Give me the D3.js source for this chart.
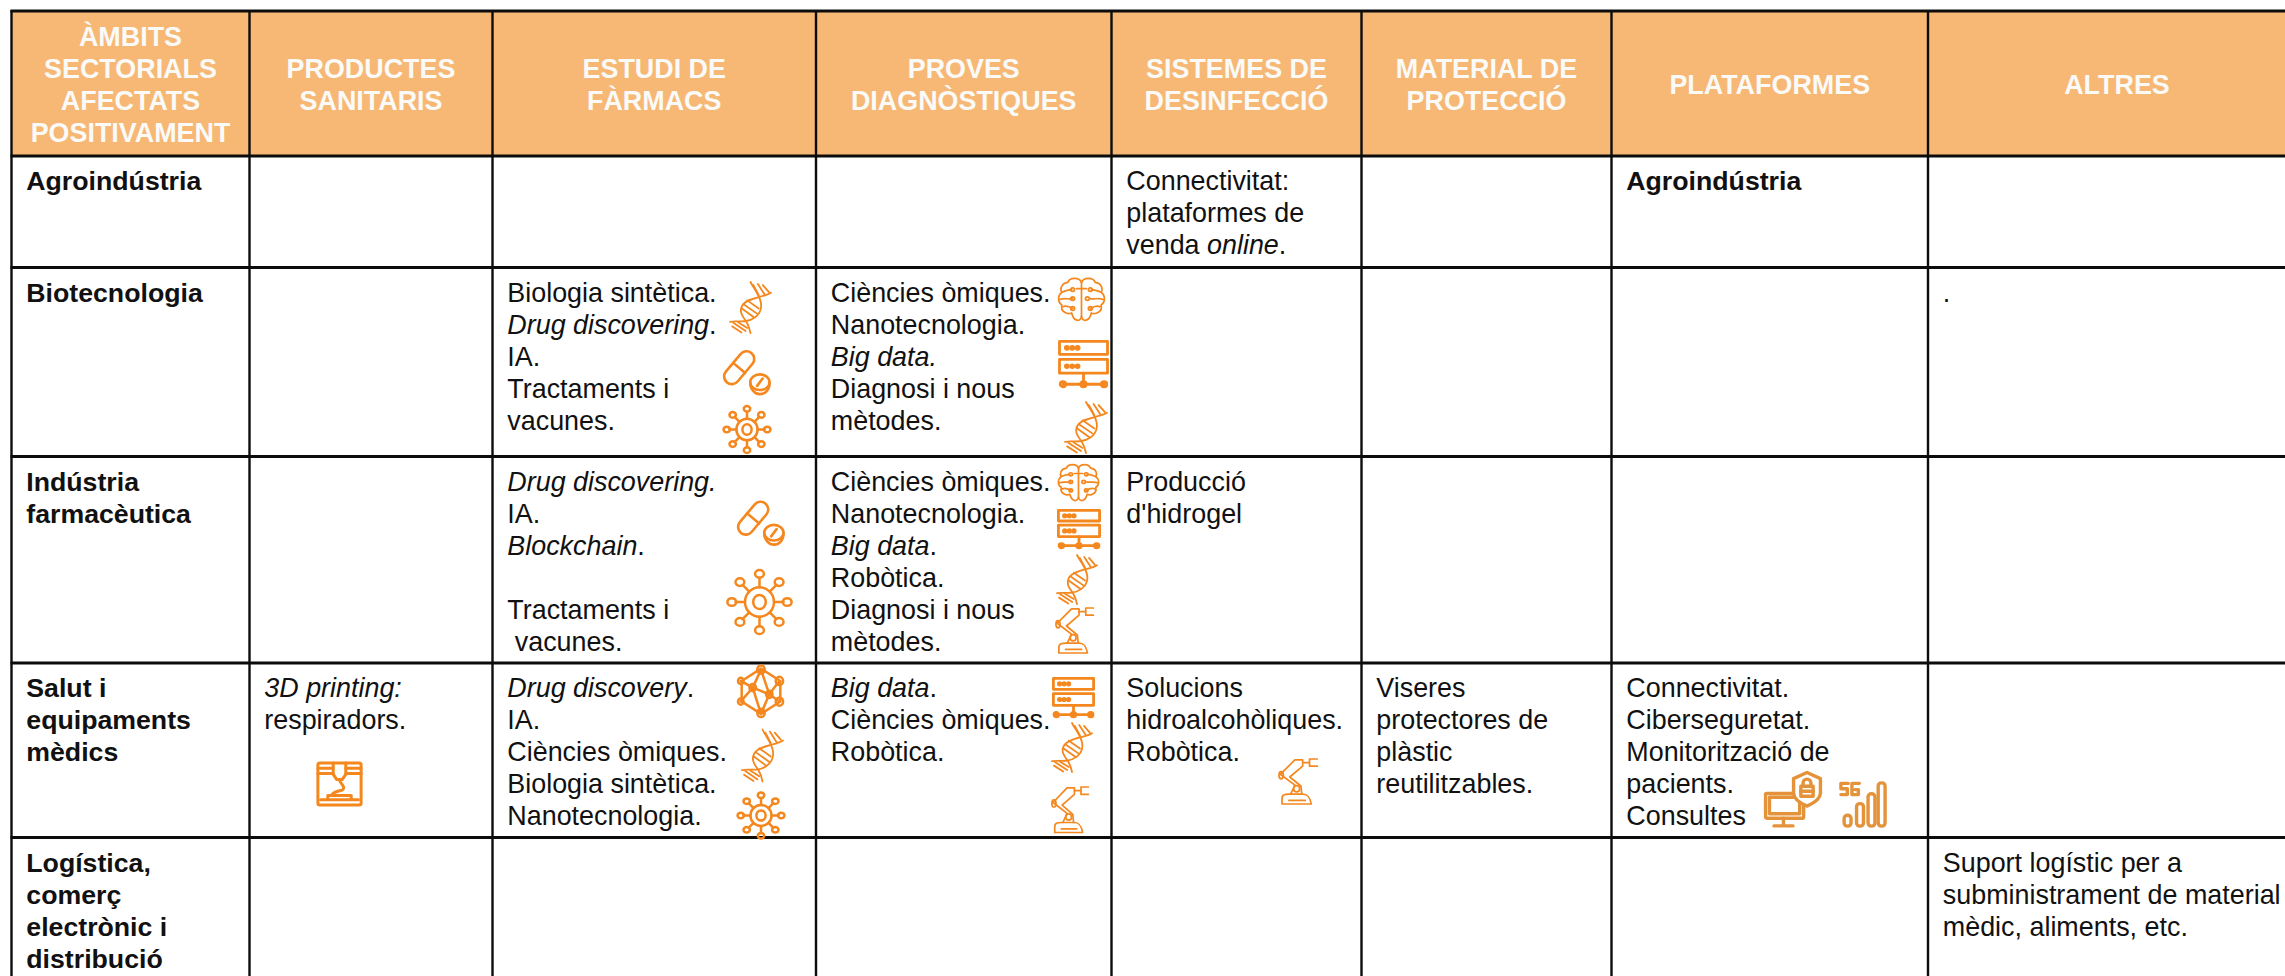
<!DOCTYPE html>
<html><head><meta charset="utf-8">
<script src="https://cdn.jsdelivr.net/npm/d3@7"></script>
<style>
html,body{margin:0;padding:0;background:#fff;overflow:hidden}
text{font-family:"Liberation Sans",Arial,sans-serif;white-space:pre}
</style></head><body>
<div id="chart"></div>
<script>
// ---------- table content ----------
const headers = [
  ["ÀMBITS","SECTORIALS","AFECTATS","POSITIVAMENT"],
  ["PRODUCTES","SANITARIS"],
  ["ESTUDI DE","FÀRMACS"],
  ["PROVES","DIAGNÒSTIQUES"],
  ["SISTEMES DE","DESINFECCIÓ"],
  ["MATERIAL DE","PROTECCIÓ"],
  ["PLATAFORMES"],
  ["ALTRES"]
];
const sectors = [
  ["Agroindústria"],
  ["Biotecnologia"],
  ["Indústria","farmacèutica"],
  ["Salut i","equipaments","mèdics"],
  ["Logística,","comerç","electrònic i","distribució"]
];
const productesSanitaris = [[],[],[],["*3D printing:*","respiradors."],[]];
const estudiFarmacs = [
  [],
  ["Biologia sintètica.","*Drug discovering*.","IA.","Tractaments i","vacunes."],
  ["*Drug discovering.*","IA.","*Blockchain*.","","Tractaments i"," vacunes."],
  ["*Drug discovery*.","IA.","Ciències òmiques.","Biologia sintètica.","Nanotecnologia."],
  []
];
const provesDiagnostiques = [
  [],
  ["Ciències òmiques.","Nanotecnologia.","*Big data.*","Diagnosi i nous","mètodes."],
  ["Ciències òmiques.","Nanotecnologia.","*Big data*.","Robòtica.","Diagnosi i nous","mètodes."],
  ["*Big data*.","Ciències òmiques.","Robòtica."],
  []
];
const sistemesDesinfeccio = [
  ["Connectivitat:","plataformes de","venda *online*."],
  [],
  ["Producció","d'hidrogel"],
  ["Solucions","hidroalcohòliques.","Robòtica."],
  []
];
const materialProteccio = [[],[],[],["Viseres","protectores de","plàstic","reutilitzables."],[]];
const plataformes = [
  ["#Agroindústria"],
  [],
  [],
  ["Connectivitat.","Ciberseguretat.","Monitorització de","pacients.","Consultes"],
  []
];
const altres = [
  [],
  ["."],
  [],
  [],
  ["Suport logístic per a","subministrament de material","mèdic, aliments, etc."]
];
const columns = [sectors.map(l=>l.map(s=>"#"+s)),productesSanitaris,estudiFarmacs,provesDiagnostiques,
  sistemesDesinfeccio,materialProteccio,plataformes,altres];

// icons: [kind, column, row, slot]
const iconList = [
  ["dna",2,1,0],["pills",2,1,1],["virus",2,1,2],
  ["brain",3,1,0],["server",3,1,1],["dna",3,1,2],
  ["pills",2,2,0],["virus",2,2,1],
  ["brain",3,2,0],["server",3,2,1],["dna",3,2,2],["robot",3,2,3],
  ["printer",1,3,0],
  ["net",2,3,0],["dna",2,3,1],["virus",2,3,2],
  ["server",3,3,0],["dna",3,3,1],["robot",3,3,2],
  ["robot",4,3,0],
  ["monitor",6,3,0],["signal",6,3,1]
];

// ---------- layout ----------
const W = 2285, H = 976;
const colEdges = [11.5,249.5,492.5,816,1111.5,1361.5,1611.5,1928,2290];
const rowEdges = [11,156,267.5,456.5,663,837.5,990];
const x = d3.scaleLinear().domain(d3.range(colEdges.length)).range(colEdges);
const y = d3.scaleLinear().domain(d3.range(rowEdges.length)).range(rowEdges);
const lineH = 32, fsRegular = 26.9, fsBold = 26.7, fsHeader = 26.9, pad = 14.8;
const iconBoxes = { // pixel boxes of the pictograms: "col,row,slot" -> x0,y0,x1,y1
  "2,1,0":[730,282,771,333],"2,1,1":[724,350,770,396],"2,1,2":[724,406,770,453],
  "3,1,0":[1057,277,1106,322],"3,1,1":[1059,341,1108,387],"3,1,2":[1065,402,1107,453],
  "2,2,0":[738,500.5,784,546.5],"2,2,1":[728,570,791,634],
  "3,2,0":[1057,463.5,1100,502],"3,2,1":[1058,510,1100,548],"3,2,2":[1057,555,1097,604],"3,2,3":[1053,608,1095,653],
  "1,3,0":[317,762,362,806],
  "2,3,0":[738,665.5,784,717],"2,3,1":[742,729.5,783,781.5],"2,3,2":[738,792.5,784,838.5],
  "3,3,0":[1053,678,1094,717],"3,3,1":[1052,723,1092,772],"3,3,2":[1049,787,1090,832.5],
  "4,3,0":[1276,759,1319,804],
  "6,3,0":[1765,772,1821,827],"6,3,1":[1840,782,1886,827]
};

const svg = d3.select("#chart").append("svg").attr("width",W).attr("height",H).style("display","block");
svg.append("rect").attr("width",W).attr("height",H).attr("fill","#fff");
svg.append("rect").attr("x",x(0)).attr("y",y(0)).attr("width",W-x(0)).attr("height",y(1)-y(0)).attr("fill","#F6B874");

// grid
const grid = svg.append("g").attr("stroke","#0c0c0c");
grid.selectAll("line.v").data(d3.range(colEdges.length-1)).join("line").attr("class","v")
  .attr("x1",x).attr("x2",x).attr("y1",y(0)-1).attr("y2",H).attr("stroke-width",2.4);
grid.selectAll("line.h").data(d3.range(rowEdges.length-1)).join("line").attr("class","h")
  .attr("x1",x(0)-1).attr("x2",W).attr("y1",y).attr("y2",y).attr("stroke-width",2.8);

// header text
const hdr = svg.append("g").attr("fill","#FAFAF8").attr("font-weight","bold").attr("text-anchor","middle").attr("font-size",fsHeader);
headers.forEach((lines,c)=>{
  const cx = c===7 ? 2117 : (x(c)+x(c+1))/2, cy = (y(0)+y(1))/2+0.5;
  lines.forEach((t,i)=>{
    hdr.append("text").attr("x",cx).attr("y",cy+lineH*(i-(lines.length-1)/2)+9.5).text(t);
  });
});

// body text
const body = svg.append("g").attr("fill","#111");
columns.forEach((col,c)=>{
  col.forEach((lines,r)=>{
    lines.forEach((raw,i)=>{
      if(!raw) return;
      const bold = raw[0]==="#";
      const t = body.append("text").attr("x",x(c)+pad).attr("y",y(r+1)+34.3+lineH*i)
        .attr("font-size",bold?fsBold:fsRegular)
        .attr("font-weight",bold?"bold":"normal");
      (bold?raw.slice(1):raw).split("*").forEach((part,k)=>{
        if(part) t.append("tspan").attr("font-style",k%2?"italic":"normal").text(part);
      });
    });
  });
});

// ---------- pictograms, drawn in a 100×100 box ----------
const P = (d)=>({t:"p",d});
const W_ = (d)=>({t:"w",d});
const C = (cx,cy,rx,ry)=>({t:"c",cx,cy,rx,ry:ry===undefined?rx:ry});
const R = (x,y,w,h,r=0)=>({t:"r",x,y,w,h,r});
const F = (cx,cy,rx,ry)=>({t:"f",cx,cy,rx,ry:ry===undefined?rx:ry});
function virusParts(){
  const a=[C(50,50,23),C(50,50,10,11)];
  d3.range(8).forEach(k=>{
    const th=k*Math.PI/4, c=Math.cos(th), s=Math.sin(th);
    a.push(P(`M${50+23*c} ${50+23*s}L${50+38*c} ${50+38*s}`));
    a.push(C(50+44*c,50+44*s,7,6));
  });
  return a;
}
const icons = {
  dna:{w:1.8,parts:[
    P("M50 0C58 14 78 30 76 48C74 68 50 76 36 77C24 78 10 76 0 78"),
    P("M100 21C84 30 42 30 30 46C20 60 34 70 40 78C46 86 48 92 50 100"),
    P("M57 6L70 26M68 4L84 24M80 6L95 20"),
    P("M42 36L70 52M34 44L66 62M29 52L58 69"),
    P("M8 80L38 96M20 79L42 90M5 87L28 99")]},
  pills:{w:2.6,parts:[
    P("M4 47L36 9A16 16 0 0 1 62 30L30 68A16 16 0 0 1 4 47Z"),
    P("M20 28L46 50"),
    C(78,70,21,17),P("M57 72C57 86 68 96 78 96C90 96 99 86 99 72"),P("M72 78L84 62")]},
  virus:{w:2.5,parts:virusParts()},
  brain:{w:1.7,parts:[
    P("M50 12C46 0 26 0 22 12C8 14 6 28 10 34C0 42 2 58 10 62C6 78 22 84 30 80C34 100 48 100 50 88"),
    P("M50 12C54 0 74 0 78 12C92 14 94 28 90 34C100 42 98 58 90 62C94 78 78 84 70 80C66 100 52 100 50 88"),
    P("M50 12V88M40 26H60"),
    P("M10 34C18 30 26 28 30 28M90 34C82 30 74 28 70 28M6 50C14 46 24 50 32 48M94 50C86 46 76 50 68 48M12 66C20 62 26 66 32 70M88 66C80 62 74 66 68 70"),
    C(32,28,4),C(68,28,4),C(32,48,4),C(62,48,4),C(32,70,4),C(68,70,4)]},
  server:{w:2.8,parts:[
    R(1,1,98,28),R(1,40,98,30),P("M50 70V94M8 94H92"),
    C(8,94,5.5),C(50,94,5.5),C(92,94,5.5),
    F(16,15,3),F(27,15,3),F(38,15,3),F(16,55,3),F(27,55,3),F(38,55,3)]},
  robot:{w:1.7,parts:[
    P("M14 100V88C14 78 22 78 30 78H62C70 78 78 80 82 100Z"),P("M30 92H68"),
    P("M34 78L44 58L10 34L44 2H62V16L32 40L58 60L60 78"),
    C(48,66,7),C(12,36,5,8),P("M62 8H78M78 0H96M78 16H96M78 0V16")]},
  printer:{w:3,parts:[
    R(2,2,96,96,4),P("M2 14H36M64 14H98M2 26H36M64 26H98"),
    P("M36 2V28L44 40H56L64 28V2"),
    P("M50 40C50 50 64 54 58 62C54 68 42 62 32 76"),
    P("M24 86V76H76V86M8 86H92")]},
  net:{w:2.5,parts:[
    P("M50 6L92 30V70L50 94L8 70V30Z"),
    P("M50 8L32 43L50 94M50 8L68 56L50 94M6 30L32 43L68 56L90 70M90 30L68 56M6 70L32 43"),
    C(50,8,8),C(90,30,8),C(90,70,8),C(50,92,8),C(6,70,6),C(6,30,6),C(32,43,7),C(68,56,7)]},
  monitor:{w:3.4,c:"#E4933A",parts:[
    R(1,39,68,45,2),R(8,46,54,30),P("M33 84V94M16 98H50"),
    W_("M75 1L99 12V38C99 48 88 56 75 62C62 56 51 48 51 38V12Z"),
    R(64,26,22,18),P("M68 26V20A7 7 0 0 1 82 20V26"),P("M64 35H86")]},
  signal:{w:3.4,c:"#E4933A",parts:[
    P("M18 3H2V15H16V28H2M42 3H26V28H40V17H33"),
    R(9,74,15,24,7),R(36,48,15,50,7),R(61,26,15,72,7),R(83,2,15,96,7)]}
};
const iconG = svg.append("g").attr("fill","none").attr("stroke-linejoin","round").attr("stroke-linecap","round");
iconList.forEach(([kind,c,r,s])=>{
  const b = iconBoxes[[c,r,s].join(",")], def = icons[kind], col = def.c||"#F4871E";
  const g = iconG.append("g").attr("transform",`translate(${b[0]},${b[1]}) scale(${(b[2]-b[0])/100},${(b[3]-b[1])/100})`)
    .attr("stroke",col);
  def.parts.forEach(p=>{
    let e;
    if(p.t==="p"||p.t==="w") e=g.append("path").attr("d",p.d);
    if(p.t==="c"||p.t==="f") e=g.append("ellipse").attr("cx",p.cx).attr("cy",p.cy).attr("rx",p.rx).attr("ry",p.ry);
    if(p.t==="r") e=g.append("rect").attr("x",p.x).attr("y",p.y).attr("width",p.w).attr("height",p.h).attr("rx",p.r);
    if(p.t==="f") e.attr("fill",col);
    if(p.t==="w") e.attr("fill","#fff");
    e.attr("vector-effect","non-scaling-stroke").attr("stroke-width",def.w);
  });
});
</script>
</body></html>
